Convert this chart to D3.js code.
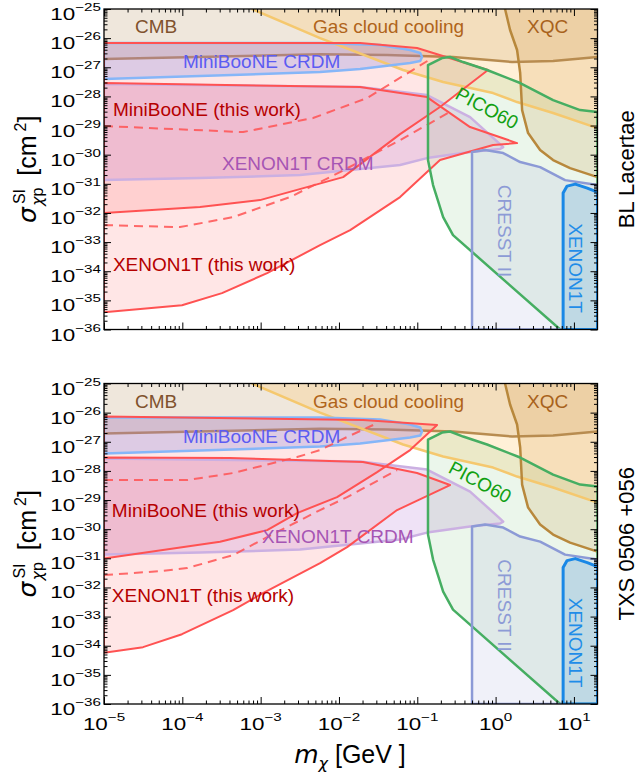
<!DOCTYPE html>
<html>
<head>
<meta charset="utf-8">
<script src="https://cdn.jsdelivr.net/npm/d3@7"></script>
<style>
  body { margin: 0; background: #fff; }
  svg text { font-family: 'Liberation Sans', Arial, sans-serif; }
</style>
</head>
<body>
<svg id="chart" width="641" height="776"></svg>
<script>
// ---- data (mass in GeV, cross section in cm^2) ----
const massRange = [1e-5, 20];
const sigmaRange = [1e-36, 1e-25];
const massExponents = [-5, -4, -3, -2, -1, 0, 1];
const sigmaExponents = [-36, -35, -34, -33, -32, -31, -30, -29, -28, -27, -26, -25];

// constraints shared by both panels
const cmbLine = [[1e-5, 1.92e-27], [5.74e-3, 2.8e-27], [4.11e-2, 2.63e-27], [0.286, 2.25e-27], [1.63, 1.51e-27], [5.42, 1.64e-27], [20, 2.25e-27]];
const gasLine = [[7.76e-4, 1e-25], [5.74e-3, 1e-26], [6.59e-2, 8.04e-28], [0.214, 3.11e-28], [0.929, 1.3e-28], [1.88, 6.4e-29], [5.42, 2.69e-29], [20, 8.18e-30]];
const xqcCurve = [[1.32, 1e-25], [1.53, 1.9e-26], [1.88, 3.91e-27], [2.06, 6.34e-28], [2.18, 3.4e-29], [2.6, 5.52e-30], [3.7, 1.44e-30], [5.42, 6.53e-31], [8.93, 3.47e-31], [20, 1.7e-31]];
const miniBooNECrdm = [[1e-5, 6.79e-27], [5.74e-3, 6.79e-27], [3.35e-2, 5.81e-27], [8.09e-2, 3.91e-27], [0.109, 3.08e-27], [0.115, 2.25e-27], [0.109, 1.64e-27], [8.09e-2, 1.4e-27], [1.86e-2, 8.7e-28], [5.74e-3, 6.87e-28], [1.68e-4, 5.0e-28], [1e-5, 3.94e-28]];
const xenonCrdm = [[1e-5, 2.65e-28], [1.86e-2, 2.09e-28], [0.133, 1.11e-28], [0.472, 1.95e-29], [1.14, 2.31e-30], [1.25, 1.82e-30], [1.14, 1.56e-30], [0.472, 1.23e-30], [0.133, 7.64e-31], [6.03e-2, 4.4e-31], [3.18e-3, 1.99e-31], [1.68e-4, 1.57e-31], [1e-5, 1.34e-31]];
const pico60 = [[0.137, 1.19e-27], [0.207, 2.07e-27], [0.262, 2.25e-27], [0.385, 1.51e-27], [0.778, 8.04e-28], [2.06, 2.88e-28], [5.42, 7.5e-29], [12.0, 3.4e-29], [20, 2.9e-29], [20, 1e-36], [6.67, 1e-36], [0.286, 1.73e-33], [0.214, 7.19e-33], [0.159, 9.04e-32], [0.137, 6.53e-31]];
const cresst2 = [[0.5, 1e-36], [0.5, 1.23e-30], [0.734, 1.44e-30], [1.25, 1.14e-30], [2.06, 5.57e-31], [3.7, 3.75e-31], [7.71, 1.34e-31], [20, 9.04e-32], [20, 1e-36]];
const xenon1t = [[7.28, 1e-36], [7.28, 4.8e-32], [8.18, 8.36e-32], [10.4, 9.77e-32], [14.8, 7.13e-32], [20, 5.2e-32], [20, 1e-36]];

// BL Lacertae (this work)
const mbRegionBL = [[1e-5, 6.79e-27], [1.86e-2, 6.79e-27], [9.93e-2, 4.58e-27], [0.8, 8.04e-28], [0.195, 4.32e-29], [6.03e-2, 5.09e-30], [1.13e-2, 1.7e-31], [9.8e-4, 2.76e-32], [1.68e-4, 1.59e-32], [1e-5, 9.9e-33]];
const mbDashBL = [[1e-5, 9.6e-30], [5.96e-4, 5.97e-30], [4.67e-3, 1.81e-29], [2.29e-2, 8.79e-29], [0.155, 2.07e-27]];
const xeRegionBL = [[1e-5, 2.88e-28], [1.86e-2, 2.09e-28], [0.133, 9.5e-29], [0.472, 8.87e-30], [1.88, 2.5e-30], [0.929, 2.14e-30], [0.195, 6.53e-31], [6.03e-2, 3.5e-32], [1.39e-2, 2.58e-33], [5.74e-3, 7.87e-34], [1.21e-3, 8.59e-35], [3.21e-4, 1.77e-35], [9.9e-5, 6.84e-36], [1e-5, 3.94e-36]];
const xeDashBL = [[1e-5, 3.82e-33], [9.35e-5, 3.27e-33], [4.45e-4, 7.19e-33], [2.37e-3, 3.5e-32], [1.03e-2, 2.52e-31], [6.03e-2, 3.17e-30], [0.247, 2.69e-29]];

// TXS 0506+056 (this work)
const mbRegionTXS = [[1e-5, 7.36e-27], [2.03e-2, 5.58e-27], [0.179, 3.76e-27], [8.09e-2, 5.2e-28], [3.07e-2, 9.14e-29], [9.46e-3, 1.26e-29], [2.92e-3, 3.57e-30], [1.21e-3, 9.3e-31], [3.03e-4, 3.69e-31], [1e-5, 9.93e-32]];
const mbDashTXS = [[1e-5, 4.85e-29], [1.15e-4, 4.85e-29], [4.45e-4, 8.45e-29], [2.92e-3, 2.99e-28], [5.74e-3, 5.2e-28], [1.27e-2, 1.46e-27], [2.73e-2, 3.76e-27]];
const xeRegionTXS = [[1e-5, 2.88e-28], [4.06e-4, 2.77e-28], [2.03e-2, 2.01e-28], [9.93e-2, 8.45e-29], [0.262, 3.27e-29], [5.52e-2, 4.53e-30], [1.27e-2, 2.43e-31], [5.74e-3, 6.85e-32], [1.07e-3, 6.4e-33], [4.45e-4, 1.67e-33], [9.9e-5, 2.49e-34], [3.15e-5, 8.93e-35], [1e-5, 5.69e-35]];
const xeDashTXS = [[1e-5, 2.65e-32], [5.19e-5, 3.64e-32], [1.15e-4, 4.61e-32], [4.45e-4, 1.29e-31], [1.21e-3, 5.36e-31], [5.74e-3, 4.53e-30], [1.27e-2, 1.26e-29], [5.52e-2, 1.07e-28]];

// ---- layout ----
const plotLeft = 104, plotRight = 597.5, panelH = 320.5;
const FONT = 19;
const RED = '#ff5252', DARKRED = '#b50000';

const sharedNotes = [
  {text: 'CMB', m: 2.49e-5, s: 1.5e-26, color: '#80522e'},
  {text: 'Gas cloud cooling', m: 4.67e-3, s: 1.5e-26, color: '#b0641a'},
  {text: 'XQC', m: 2.52, s: 1.5e-26, color: '#a8621c'},
  {text: 'MiniBooNE CRDM', m: 1.02e-4, s: 9.4e-28, color: '#5c5cf2'},
  {text: 'CRESST II', m: 1.32, s: 2.38e-33, color: '#8d9bd6', rot: 90, anchor: 'middle'},
  {text: 'XENON1T', m: 10.4, s: 1.28e-34, color: '#1f8de8', rot: 90, anchor: 'middle'}
];

const panels = [
  {top: 9, source: 'BL Lacertae', mb: mbRegionBL, mbDash: mbDashBL, xe: xeRegionBL, xeDash: xeDashBL, showX: false,
   notes: [
     {text: 'MiniBooNE (this work)', m: 1.3e-5, s: 2.12e-29, color: DARKRED},
     {text: 'XENON1T CRDM', m: 3.21e-4, s: 2.96e-31, color: '#a655b4'},
     {text: 'XENON1T (this work)', m: 1.3e-5, s: 1.0e-34, color: DARKRED},
     {text: 'PICO60', m: 0.778, s: 3.98e-29, color: '#12a012', rot: 28, anchor: 'middle'}
   ]},
  {top: 383.5, source: 'TXS 0506 +056', mb: mbRegionTXS, mbDash: mbDashTXS, xe: xeRegionTXS, xeDash: xeDashTXS, showX: true,
   notes: [
     {text: 'MiniBooNE (this work)', m: 1.26e-5, s: 2.6e-30, color: DARKRED},
     {text: 'XENON1T CRDM', m: 1.04e-3, s: 3.25e-31, color: '#a655b4'},
     {text: 'XENON1T (this work)', m: 1.26e-5, s: 3.14e-33, color: DARKRED},
     {text: 'PICO60', m: 0.634, s: 4.14e-29, color: '#12a012', rot: 28, anchor: 'middle'}
   ]}
];

const svg = d3.select('#chart');
const x = d3.scaleLog().domain(massRange).range([plotLeft, plotRight]);

function minorTicks(exps) {
  const out = [];
  exps.slice(0, -1).forEach(e => { for (let k = 2; k <= 9; k++) out.push(k * Math.pow(10, e)); });
  return out;
}
const xMinor = minorTicks(massExponents.concat([2])).filter(v => v < massRange[1]);
const yMinor = minorTicks(sigmaExponents);

// tick labels in the figure are drawn wide, so stretch them horizontally
const TICK_FONT = 17, SUP_FONT = 11.5, STRETCH = 1.32;
function tickLabel(parent, px, py, e, anchor) {
  const t = parent.append('text')
      .attr('transform', `translate(${px},${py}) scale(${STRETCH},1)`)
      .attr('text-anchor', anchor).attr('font-size', TICK_FONT).attr('fill', '#000');
  t.append('tspan').text('10');
  t.append('tspan').attr('dy', -9).attr('font-size', SUP_FONT).text(e < 0 ? '\u2212' + Math.abs(e) : String(e));
}

panels.forEach((p, i) => {
  const y = d3.scaleLog().domain(sigmaRange).range([p.top + panelH, p.top]);
  const line = d3.line().x(d => x(d[0])).y(d => y(d[1]));
  const closed = pts => line(pts) + 'Z';
  const topRight = [massRange[1], sigmaRange[1]], topLeft = [massRange[0], sigmaRange[1]];

  svg.append('clipPath').attr('id', 'clip' + i).append('rect')
      .attr('x', plotLeft).attr('y', p.top).attr('width', plotRight - plotLeft).attr('height', panelH);
  const g = svg.append('g').attr('clip-path', `url(#clip${i})`);

  const fill = (pts, color, op) => g.append('path').attr('d', closed(pts)).attr('fill', color).attr('fill-opacity', op).attr('stroke', 'none');
  const stroke = (pts, color, w, close, dash) => g.append('path').attr('d', close ? closed(pts) : line(pts))
      .attr('fill', 'none').attr('stroke', color).attr('stroke-width', w).attr('stroke-dasharray', dash || null)
      .attr('stroke-linejoin', 'round');

  // background bounds
  fill(cmbLine.concat([topRight, topLeft]), '#b08850', 0.2);
  fill(gasLine.concat([topRight]), '#ffc870', 0.28);
  fill(xqcCurve.concat([topRight]), '#d89a48', 0.2);
  stroke(cmbLine, '#b88c50', 2.5);

  // regions
  fill(p.mb, '#ff3c3c', 0.13);
  fill(p.xe, '#ff3c3c', 0.13);
  fill(xenonCrdm, '#b070d0', 0.2);
  fill(miniBooNECrdm, '#9090e0', 0.3);
  fill(pico60, '#70c070', 0.14);
  fill(cresst2, '#a0a8d8', 0.16);
  fill(xenon1t, '#3090d0', 0.18);

  stroke(gasLine, '#f5c86e', 2.5);
  stroke(xqcCurve, '#b8883c', 2.5);
  stroke(miniBooNECrdm, '#86b6f8', 2.5, true);
  stroke(xenonCrdm, '#cbb0e2', 2.5, true);
  stroke(p.mb, RED, 2, true);
  stroke(p.xe, RED, 2, true);
  stroke(p.mbDash, RED, 2, false, '9,6').attr('stroke-opacity', 0.85);
  stroke(p.xeDash, RED, 2, false, '9,6').attr('stroke-opacity', 0.85);
  stroke(pico60, '#46ae62', 2.5, true);
  stroke(cresst2, '#8c9ad6', 2.5, true);
  stroke(xenon1t, '#1a88e6', 3, true);

  // annotations
  const notes = sharedNotes.concat(p.notes);
  svg.append('g').selectAll('text').data(notes).enter().append('text')
      .attr('transform', d => `translate(${x(d.m)},${y(d.s)})` + (d.rot ? ` rotate(${d.rot})` : ''))
      .attr('text-anchor', d => d.anchor || 'start')
      .attr('dy', d => d.anchor === 'middle' ? '0.35em' : 0)
      .attr('font-size', FONT)
      .attr('fill', d => d.color)
      .text(d => d.text);

  // ticks, all inward
  const axes = svg.append('g');
  const bottomY = p.top + panelH;
  const mk = (gen, tx, ty, vals, size) => axes.append('g').attr('transform', `translate(${tx},${ty})`)
      .call(gen.tickValues(vals).tickSize(-size).tickFormat(''))
      .call(a => a.select('.domain').remove())
      .call(a => a.selectAll('.tick line').attr('stroke', '#000').attr('stroke-width', 1));
  const yMajor = sigmaExponents.map(e => Math.pow(10, e));
  const xMajor = massExponents.map(e => Math.pow(10, e));
  mk(d3.axisLeft(y), plotLeft, 0, yMajor, 7);
  mk(d3.axisRight(y), plotRight, 0, yMajor, 7);
  mk(d3.axisLeft(y), plotLeft, 0, yMinor, 3.5);
  mk(d3.axisRight(y), plotRight, 0, yMinor, 3.5);
  mk(d3.axisBottom(x), 0, bottomY, xMajor, 7);
  mk(d3.axisBottom(x), 0, bottomY, xMinor, 3.5);
  mk(d3.axisTop(x), 0, p.top, xMajor, 7);
  mk(d3.axisTop(x), 0, p.top, xMinor, 3.5);

  // y tick labels
  sigmaExponents.forEach(e => tickLabel(axes, plotLeft - 3, y(Math.pow(10, e)) + 11, e, 'end'));
  if (p.showX) massExponents.forEach(e => tickLabel(axes, x(Math.pow(10, e)), bottomY + 26, e, 'middle'));

  // frame
  svg.append('rect').attr('x', plotLeft).attr('y', p.top).attr('width', plotRight - plotLeft).attr('height', panelH)
      .attr('fill', 'none').attr('stroke', '#000').attr('stroke-width', 1.3);

  // y label
  const midY = p.top + panelH / 2;
  const yl = svg.append('text').attr('transform', `translate(36,${midY}) rotate(-90)`)
      .attr('text-anchor', 'middle').attr('font-size', 25).attr('fill', '#000');
  yl.append('tspan').attr('font-family', 'DejaVu Sans').attr('font-style', 'italic').text('\u03c3');
  yl.append('tspan').attr('font-size', 16).attr('dy', -11).attr('dx', 3).text('SI');
  yl.append('tspan').attr('font-size', 16).attr('dy', 18).attr('dx', -17).attr('font-family', 'DejaVu Sans').attr('font-style', 'italic').text('\u03c7');
  yl.append('tspan').attr('font-size', 16).text('p');
  yl.append('tspan').attr('dy', -7).text('\u2009 [cm');
  yl.append('tspan').attr('font-size', 16).attr('dy', -10).attr('dx', 4).text('2');
  yl.append('tspan').attr('dy', 10).text(']');

  // source label
  svg.append('text').attr('transform', `translate(634,${midY}) rotate(-90)`)
      .attr('text-anchor', 'middle').attr('font-size', 22).attr('fill', '#000').text(p.source);
});

// x label
const xl = svg.append('text').attr('x', 350).attr('y', 763).attr('text-anchor', 'middle')
    .attr('font-size', 25).attr('fill', '#000');
xl.append('tspan').attr('font-family', 'DejaVu Sans').attr('font-style', 'italic').text('m');
xl.append('tspan').attr('font-family', 'DejaVu Sans').attr('font-style', 'italic').attr('font-size', 16).attr('dy', 6).text('\u03c7');
xl.append('tspan').attr('dy', -6).text(' [GeV ]');
</script>
</body>
</html>
